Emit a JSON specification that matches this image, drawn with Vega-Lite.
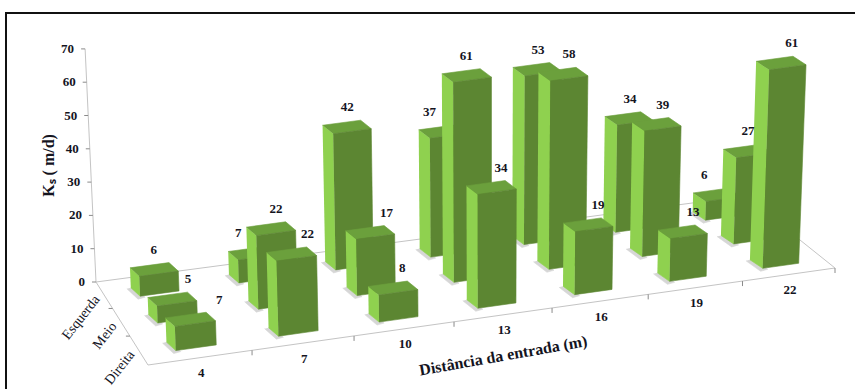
{
  "$schema": "https://vega.github.io/schema/vega-lite/v6.json",
  "width": 852,
  "height": 378,
  "padding": {"left": 6, "top": 13, "right": 0, "bottom": 0},
  "autosize": {"type": "none"},
  "background": "white",
  "view": {"stroke": "#111111", "strokeWidth": 2, "fill": "white"},
  "config": {"text": {"font": "Liberation Serif", "fontWeight": "bold", "color": "#14141e"}},
  "datasets": {
    "barras": [
      {"distancia": 4, "posicao": "Esquerda", "ks": 6},
      {"distancia": 7, "posicao": "Esquerda", "ks": 7},
      {"distancia": 10, "posicao": "Esquerda", "ks": 42},
      {"distancia": 13, "posicao": "Esquerda", "ks": 37},
      {"distancia": 16, "posicao": "Esquerda", "ks": 53},
      {"distancia": 19, "posicao": "Esquerda", "ks": 34},
      {"distancia": 22, "posicao": "Esquerda", "ks": 6},
      {"distancia": 4, "posicao": "Meio", "ks": 5},
      {"distancia": 7, "posicao": "Meio", "ks": 22},
      {"distancia": 10, "posicao": "Meio", "ks": 17},
      {"distancia": 13, "posicao": "Meio", "ks": 61},
      {"distancia": 16, "posicao": "Meio", "ks": 58},
      {"distancia": 19, "posicao": "Meio", "ks": 39},
      {"distancia": 22, "posicao": "Meio", "ks": 27},
      {"distancia": 4, "posicao": "Direita", "ks": 7},
      {"distancia": 7, "posicao": "Direita", "ks": 22},
      {"distancia": 10, "posicao": "Direita", "ks": 8},
      {"distancia": 13, "posicao": "Direita", "ks": 34},
      {"distancia": 16, "posicao": "Direita", "ks": 19},
      {"distancia": 19, "posicao": "Direita", "ks": 13},
      {"distancia": 22, "posicao": "Direita", "ks": 61}
    ],
    "escalaKs": [
      {"ks": 0}, {"ks": 10}, {"ks": 20}, {"ks": 30}, {"ks": 40}, {"ks": 50}, {"ks": 60}, {"ks": 70}
    ],
    "distancias": [
      {"distancia": 4}, {"distancia": 7}, {"distancia": 10}, {"distancia": 13}, {"distancia": 16}, {"distancia": 19}, {"distancia": 22}
    ],
    "posicoes": [
      {"posicao": "Esquerda"}, {"posicao": "Meio"}, {"posicao": "Direita"}
    ],
    "contornoPiso": [
      {"canto": 0}, {"canto": 1}, {"canto": 2}, {"canto": 3}, {"canto": 4}
    ],
    "limitesDistancia": [
      {"limite": 1}, {"limite": 2}, {"limite": 3}, {"limite": 4}, {"limite": 5}, {"limite": 6}, {"limite": 7}
    ],
    "limitesPosicao": [
      {"limite": 1}, {"limite": 2}
    ]
  },
  "encoding": {
    "x": {"field": "px", "type": "quantitative", "scale": {"domain": [6, 858], "range": [0, 852]}, "axis": null},
    "y": {"field": "py", "type": "quantitative", "scale": {"domain": [13, 391], "range": [0, 378]}, "axis": null}
  },
  "layer": [
    {
      "data": {"name": "contornoPiso"},
      "transform": [
        {"calculate": "(datum.canto==1||datum.canto==2)?1:0", "as": "u"},
        {"calculate": "(datum.canto==2||datum.canto==3)?1:0", "as": "v"},
        {"calculate": "1+0.06652*datum.u-0.06403*datum.v", "as": "w"},
        {"calculate": "(698.56*datum.u+42.52*datum.v+96)/datum.w", "as": "px"},
        {"calculate": "(-72.96*datum.u+59.63*datum.v+282)/datum.w", "as": "py"}
      ],
      "mark": {"type": "line", "stroke": "#c4c4c4", "strokeWidth": 1},
      "encoding": {"order": {"field": "canto"}}
    },
    {
      "data": {"name": "limitesDistancia"},
      "transform": [
        {"calculate": "datum.limite/7", "as": "u"},
        {"calculate": "1+0.06652*datum.u-0.06403", "as": "w"},
        {"calculate": "(698.56*datum.u+42.52+96)/datum.w", "as": "px"},
        {"calculate": "(-72.96*datum.u+59.63+282)/datum.w", "as": "py"},
        {"calculate": "datum.py+5", "as": "py2"}
      ],
      "mark": {"type": "rule", "stroke": "#8a8a8a", "strokeWidth": 1},
      "encoding": {"y2": {"field": "py2"}}
    },
    {
      "data": {"name": "limitesPosicao"},
      "transform": [
        {"calculate": "datum.limite/3", "as": "v"},
        {"calculate": "1-0.06403*datum.v", "as": "w"},
        {"calculate": "(42.52*datum.v+96)/datum.w", "as": "px"},
        {"calculate": "(59.63*datum.v+282)/datum.w", "as": "py"},
        {"calculate": "datum.px-4", "as": "px2"}
      ],
      "mark": {"type": "rule", "stroke": "#8a8a8a", "strokeWidth": 1},
      "encoding": {"x2": {"field": "px2"}}
    },
    {
      "data": {"name": "escalaKs"},
      "transform": [
        {"calculate": "96-392*3.33*datum.ks/8400", "as": "px"},
        {"calculate": "282-3.33*datum.ks", "as": "py"}
      ],
      "mark": {"type": "line", "stroke": "#c4c4c4", "strokeWidth": 1},
      "encoding": {"order": {"field": "ks"}}
    },
    {
      "data": {"name": "escalaKs"},
      "transform": [
        {"calculate": "96-392*3.33*datum.ks/8400", "as": "px"},
        {"calculate": "datum.px-4", "as": "px2"},
        {"calculate": "282-3.33*datum.ks", "as": "py"}
      ],
      "mark": {"type": "rule", "stroke": "#8a8a8a", "strokeWidth": 1},
      "encoding": {"x2": {"field": "px2"}}
    },
    {
      "data": {"name": "escalaKs"},
      "transform": [
        {"calculate": "96-392*3.33*datum.ks/8400-11", "as": "px"},
        {"calculate": "282-3.33*datum.ks", "as": "py"}
      ],
      "mark": {"type": "text", "align": "right", "baseline": "middle", "fontSize": 13},
      "encoding": {"text": {"field": "ks", "type": "quantitative"}}
    },
    {
      "data": {"name": "barras"},
      "transform": [
        {"calculate": "(datum.distancia-4)/3", "as": "i"},
        {"calculate": "indexof(['Esquerda','Meio','Direita'],datum.posicao)", "as": "r"},
        {"calculate": "(datum.i+0.5)/7+0.003", "as": "uc"},
        {"calculate": "[0.235,0.565,0.89][datum.r]", "as": "vf"},
        {"calculate": "[{f:'sombra',c:0,s:0,d:1,t:0,ox:-4,oy:1},{f:'sombra',c:1,s:0,d:0,t:0,ox:-2,oy:3},{f:'sombra',c:2,s:0,d:0,t:0,ox:5,oy:1},{f:'sombra',c:3,s:0,d:1,t:0,ox:4,oy:-1},{f:'esquerda',c:0,s:0,d:1,t:0},{f:'esquerda',c:1,s:0,d:0,t:0},{f:'esquerda',c:2,s:0,d:0,t:1},{f:'esquerda',c:3,s:0,d:1,t:1},{f:'topo',c:0,s:0,d:0,t:1},{f:'topo',c:1,s:1,d:0,t:1},{f:'topo',c:2,s:1,d:1,t:1},{f:'topo',c:3,s:0,d:1,t:1},{f:'frente',c:0,s:0,d:0,t:0},{f:'frente',c:1,s:1,d:0,t:0},{f:'frente',c:2,s:1,d:0,t:1},{f:'frente',c:3,s:0,d:0,t:1}]", "as": "vertice"},
        {"flatten": ["vertice"]},
        {"calculate": "datum.uc+(datum.vertice.s==1?0.028:-0.028)", "as": "u"},
        {"calculate": "1+0.06652*datum.u-0.06403*datum.vf", "as": "w"},
        {"calculate": "(698.56*datum.u+42.52*datum.vf+96)/datum.w-(datum.vertice.d==1?9+4*datum.uc:0)", "as": "bx"},
        {"calculate": "(-72.96*datum.u+59.63*datum.vf+282)/datum.w-(datum.vertice.d==1?8.5:0)", "as": "by"},
        {"calculate": "datum.vertice.t==1?3.27*datum.ks/(1+0.06652*datum.uc-0.06403*datum.vf):0", "as": "alt"},
        {"calculate": "datum.bx+(datum.bx-488)*datum.alt/8400+(datum.vertice.ox||0)", "as": "px"},
        {"calculate": "datum.by-datum.alt+(datum.vertice.oy||0)", "as": "py"},
        {"calculate": "datum.posicao+'-'+datum.distancia+'-'+datum.vertice.f", "as": "faceId"},
        {"calculate": "datum.vertice.f", "as": "face"},
        {"calculate": "datum.vertice.c", "as": "ordem"}
      ],
      "mark": {"type": "line", "filled": true, "strokeWidth": 0.6},
      "encoding": {
        "detail": {"field": "faceId"},
        "order": {"field": "ordem"},
        "fill": {
          "field": "face",
          "type": "nominal",
          "scale": {"domain": ["sombra", "esquerda", "topo", "frente"], "range": ["#d6d6d6", "#8FD14F", "#6BA03C", "#5C8632"]},
          "legend": null
        },
        "stroke": {
          "field": "face",
          "type": "nominal",
          "scale": {"domain": ["sombra", "esquerda", "topo", "frente"], "range": ["#d6d6d6", "#8FD14F", "#6BA03C", "#5C8632"]},
          "legend": null
        }
      }
    },
    {
      "data": {"name": "barras"},
      "transform": [
        {"calculate": "(datum.distancia-4)/3", "as": "i"},
        {"calculate": "indexof(['Esquerda','Meio','Direita'],datum.posicao)", "as": "r"},
        {"calculate": "(datum.i+0.5)/7+0.003", "as": "uc"},
        {"calculate": "[0.235,0.565,0.89][datum.r]", "as": "vf"},
        {"calculate": "1+0.06652*datum.uc-0.06403*datum.vf", "as": "w"},
        {"calculate": "3.27*datum.ks/datum.w", "as": "alt"},
        {"calculate": "(698.56*datum.uc+42.52*datum.vf+96)/datum.w", "as": "bx"},
        {"calculate": "(-72.96*datum.uc+59.63*datum.vf+282)/datum.w", "as": "by"},
        {"calculate": "[-5,0,4][datum.r]+((datum.r==0&&(datum.i==1||datum.i==3||datum.i==6))?-14:0)+((datum.r==1&&(datum.i==0||datum.i==2))?11:0)+((datum.r==1&&(datum.i==3||datum.i==6))?-6:0)+((datum.r==2&&datum.i<2)?(datum.i==0?20:7):0)", "as": "recuo"},
        {"calculate": "datum.bx+(datum.bx-488)*datum.alt/8400+datum.recuo", "as": "px"},
        {"calculate": "datum.by-datum.alt-24", "as": "py"}
      ],
      "mark": {"type": "text", "align": "center", "baseline": "middle", "fontSize": 13},
      "encoding": {"text": {"field": "ks", "type": "quantitative"}}
    },
    {
      "data": {"name": "distancias"},
      "transform": [
        {"calculate": "((datum.distancia-4)/3+0.5)/7", "as": "u"},
        {"calculate": "1+0.06652*datum.u-0.06403", "as": "w"},
        {"calculate": "(698.56*datum.u+42.52+96)/datum.w+1", "as": "px"},
        {"calculate": "(-72.96*datum.u+59.63+282)/datum.w+15.5", "as": "py"}
      ],
      "mark": {"type": "text", "align": "center", "baseline": "middle", "fontSize": 13},
      "encoding": {"text": {"field": "distancia", "type": "quantitative"}}
    },
    {
      "data": {"name": "posicoes"},
      "transform": [
        {"calculate": "(indexof(['Esquerda','Meio','Direita'],datum.posicao)+0.5)/3", "as": "v"},
        {"calculate": "1-0.06403*datum.v", "as": "w"},
        {"calculate": "(42.52*datum.v+96)/datum.w-7", "as": "px"},
        {"calculate": "(59.63*datum.v+282)/datum.w+2", "as": "py"}
      ],
      "mark": {"type": "text", "align": "right", "baseline": "middle", "fontSize": 14, "angle": 308, "fontWeight": "normal"},
      "encoding": {"text": {"field": "posicao", "type": "nominal"}}
    },
    {
      "data": {"values": [{"titulo": "Distância da entrada (m)", "u": 0.5, "v": 1}]},
      "transform": [
        {"calculate": "1+0.06652*datum.u-0.06403*datum.v", "as": "w"},
        {"calculate": "(698.56*datum.u+42.52*datum.v+96)/datum.w", "as": "px"},
        {"calculate": "(-72.96*datum.u+59.63*datum.v+282)/datum.w+41", "as": "py"}
      ],
      "mark": {"type": "text", "align": "center", "baseline": "middle", "fontSize": 16, "angle": 350},
      "encoding": {"text": {"field": "titulo", "type": "nominal"}}
    },
    {
      "data": {"values": [{"titulo": "Kₛ ( m/d)", "ks": 35}]},
      "transform": [
        {"calculate": "96-392*3.33*datum.ks/8400-42", "as": "px"},
        {"calculate": "282-3.33*datum.ks", "as": "py"}
      ],
      "mark": {"type": "text", "align": "center", "baseline": "middle", "fontSize": 16, "angle": 270},
      "encoding": {"text": {"field": "titulo", "type": "nominal"}}
    }
  ]
}
